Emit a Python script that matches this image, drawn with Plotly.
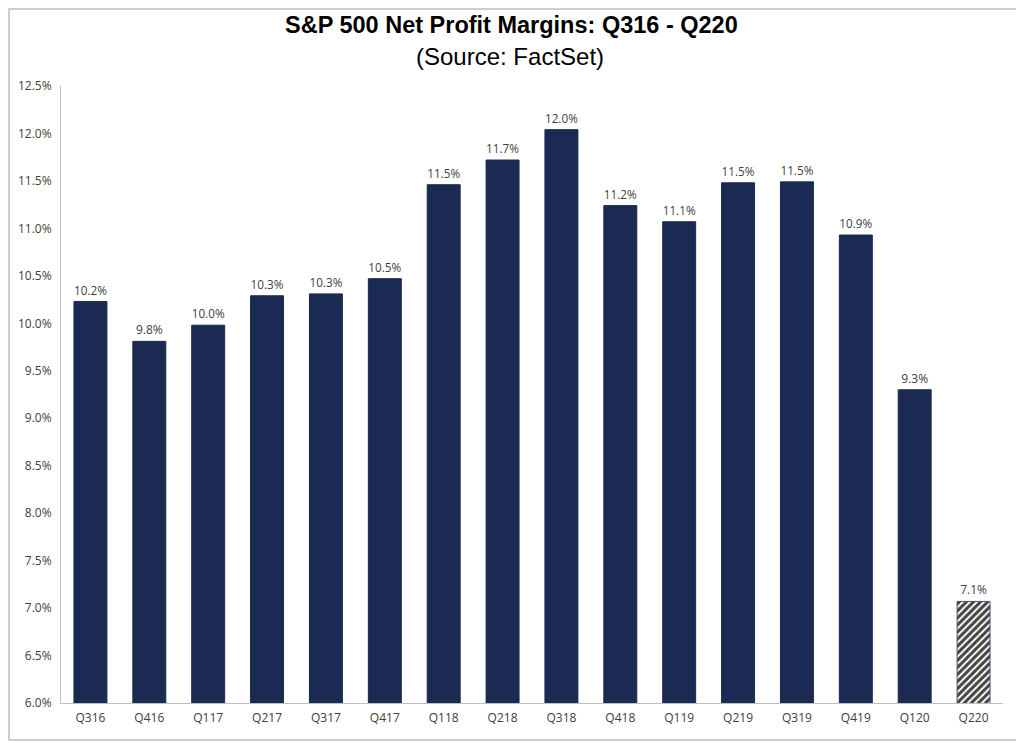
import plotly.graph_objects as go

quarters = ["Q316", "Q416", "Q117", "Q217", "Q317", "Q417", "Q118", "Q218",
            "Q318", "Q418", "Q119", "Q219", "Q319", "Q419", "Q120", "Q220"]
margins = [10.23, 9.81, 9.98, 10.29, 10.31, 10.47, 11.46, 11.72,
           12.04, 11.24, 11.07, 11.48, 11.49, 10.93, 9.30, 7.07]
estimate = [False] * 15 + [True]
y_ticks = [6.0 + 0.5 * i for i in range(14)]
y_tick_labels = [f"{v:.1f}%" for v in y_ticks]

NAVY = "#1b2a52"
L, T, PW, PH = 53, 78, 942, 617  # plot area in figure px
W, H = 1024, 743

def px_x(x):
    return (x - L) / PW

def px_y(y):
    return (T + PH - y) / PH

fig = go.Figure()
fig.add_trace(go.Bar(
    x=quarters,
    y=margins,
    base=0,
    marker=dict(
        color=[("white" if e else NAVY) for e in estimate],
        line=dict(color=[("#4a5578" if e else NAVY) for e in estimate], width=1),
        pattern=dict(
            shape=[("/" if e else "") for e in estimate],
            fgcolor=NAVY, fgopacity=1, bgcolor="white", size=5, solidity=0.6,
        ),
    ),
    text=[f"{v:.1f}%" for v in margins],
    textposition="outside",
    textfont=dict(family="Open Sans, Liberation Sans, sans-serif", size=12, color="#404040"),
    cliponaxis=False,
    hoverinfo="x+y",
))

fig.update_layout(
    width=W, height=H,
    margin=dict(l=L, r=W - L - PW, t=T, b=H - T - PH, autoexpand=False),
    paper_bgcolor="white", plot_bgcolor="white",
    bargap=0.44,
    showlegend=False,
    xaxis=dict(
        showline=True, linecolor="#bfbfbf", linewidth=1,
        ticks="", showgrid=False, ticklabelstandoff=4,
        tickfont=dict(family="Open Sans, Liberation Sans, sans-serif", size=12, color="#404040"),
    ),
    yaxis=dict(
        range=[6.0, 12.5],
        tickvals=y_ticks, ticktext=y_tick_labels,
        showline=True, linecolor="#bfbfbf", linewidth=1,
        ticks="", showgrid=False, zeroline=False, ticklabelstandoff=6,
        tickfont=dict(family="Open Sans, Liberation Sans, sans-serif", size=12, color="#404040"),
    ),
    annotations=[
        dict(text="<b>S&P 500 Net Profit Margins: Q316 - Q220</b>",
             xref="paper", yref="paper", x=px_x(503), y=px_y(17),
             xanchor="center", yanchor="middle", showarrow=False,
             font=dict(family="Liberation Sans, Arial, sans-serif", size=23.5, color="#000000")),
        dict(text="(Source: FactSet)",
             xref="paper", yref="paper", x=px_x(502), y=px_y(49),
             xanchor="center", yanchor="middle", showarrow=False,
             font=dict(family="Liberation Sans, Arial, sans-serif", size=24, color="#000000")),
    ],
    shapes=[dict(
        type="rect", xref="paper", yref="paper", layer="below",
        x0=px_x(1), x1=px_x(1012),
        y0=px_y(732), y1=px_y(1),
        line=dict(color="#bfbfbf", width=1.5), fillcolor="rgba(0,0,0,0)",
    )],
)

fig.write_html("out.html")
